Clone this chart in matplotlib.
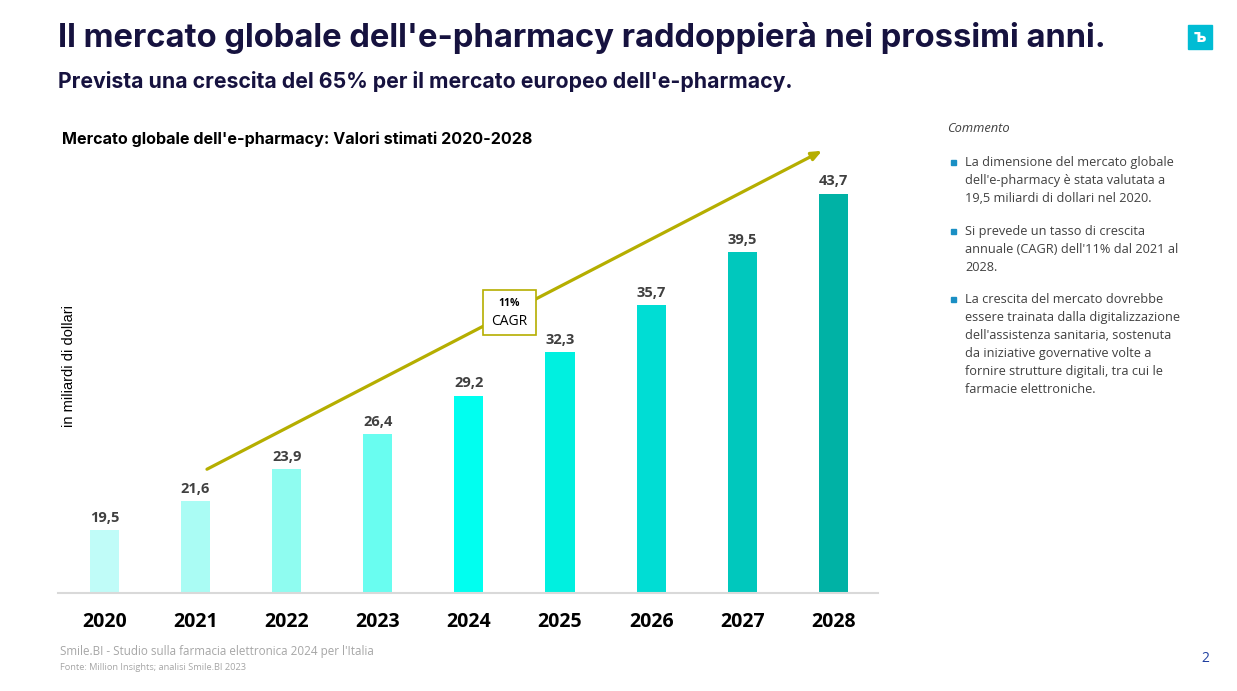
import numpy as np
import matplotlib.pyplot as plt
from matplotlib.patches import Rectangle

# data
anni = ['2020', '2021', '2022', '2023', '2024', '2025', '2026', '2027', '2028']
valori = [19.5, 21.6, 23.9, 26.4, 29.2, 32.3, 35.7, 39.5, 43.7]
colori = ['#c0fcf8', '#aafcf4', '#8ffcf0', '#69fdf0', '#00fff0',
          '#00f0e0', '#00ddd4', '#00c8bd', '#00b2a5']
etichette = [f'{v:.1f}'.replace('.', ',') for v in valori]

commento = [
    "La dimensione del mercato globale\ndell'e-pharmacy è stata valutata a\n19,5 miliardi di dollari nel 2020.",
    "Si prevede un tasso di crescita\nannuale (CAGR) dell'11% dal 2021 al\n2028.",
    "La crescita del mercato dovrebbe\nessere trainata dalla digitalizzazione\ndell'assistenza sanitaria, sostenuta\nda iniziative governative volte a\nfornire strutture digitali, tra cui le\nfarmacie elettroniche.",
]

navy = '#16123f'
oliva = '#b5ae00'

fig = plt.figure(figsize=(12.37, 6.91), dpi=100)
W, H = 1237, 691


def fx(px):
    return px / W


def fy(py):
    return 1 - py / H


# titles
fig.text(fx(58), fy(38), "Il mercato globale dell'e-pharmacy raddoppierà nei prossimi anni.",
         family='Inter', weight='bold', size=23.6, color=navy, va='center')
fig.text(fx(58), fy(81), "Prevista una crescita del 65% per il mercato europeo dell'e-pharmacy.",
         family='Inter', weight='bold', size=15.3, color=navy, va='center')
fig.text(fx(62), fy(139), "Mercato globale dell'e-pharmacy: Valori stimati 2020-2028",
         family='Inter', weight='bold', size=11.6, color='black', va='center')

# axes
ax = fig.add_axes([fx(58), fy(593), fx(878) - fx(58), fy(148) - fy(593)])
x = np.arange(len(anni))
bars = ax.bar(x, valori, width=0.32, color=colori, zorder=2)
ax.set_xlim(-0.51, 8.49)
ax.set_ylim(15, 47)
for s in ['top', 'right', 'left']:
    ax.spines[s].set_visible(False)
ax.spines['bottom'].set_color('#d9d9d9')
ax.spines['bottom'].set_linewidth(1.5)
ax.set_yticks([])
ax.set_xticks(x)
ax.set_xticklabels(anni, family='Open Sans', weight='bold', size=14, color='black')
ax.tick_params(axis='x', length=0, pad=14)
ax.set_ylabel('in miliardi di dollari', family='Liberation Sans', size=10.5,
              color='black', labelpad=2)
ax.yaxis.set_label_coords(0.022, 0.51)

for b, lab in zip(bars, etichette):
    ax.annotate(lab, (b.get_x() + b.get_width() / 2, b.get_height()),
                xytext=(0, 4), textcoords='offset points', ha='center', va='bottom',
                family='Open Sans', weight='bold', size=10.5, color='#404040')

# CAGR arrow
ax.annotate('', xy=(7.876, 46.8), xytext=(1.125, 23.9),
            arrowprops=dict(arrowstyle='-|>,head_length=0.6,head_width=0.25',
                            color=oliva, lw=2.3, shrinkA=0, shrinkB=0),
            annotation_clip=False, zorder=3)
ax.add_patch(Rectangle((4.446 - 0.29, 35.18 - 1.62), 0.58, 3.24, facecolor='white',
                       edgecolor=oliva, lw=1.2, zorder=4, clip_on=False))
ax.text(4.446, 35.85, '11%', ha='center', va='center', family='Open Sans',
        weight='bold', size=7.5, color='black', zorder=5)
ax.text(4.446, 34.55, 'CAGR', ha='center', va='center', family='Open Sans',
        size=10, color='black', zorder=5)

# commento
fig.text(fx(947), fy(128), 'Commento', family='Open Sans', style='italic', size=9.3,
         color='#404040', va='center')
y0 = [162, 231, 299]
for yy, t in zip(y0, commento):
    fig.patches.append(Rectangle((fx(951), fy(yy + 3)), fx(5), 5 / H, color='#1a8fc4',
                                 transform=fig.transFigure, figure=fig))
    fig.text(fx(965), fy(yy - 6), t, family='Open Sans', size=9.2, color='#404040',
             va='top', linespacing=1.5)

# logo
fig.patches.append(Rectangle((fx(1188), fy(49)), fx(24), 24 / H, color='#00bcd4',
                             transform=fig.transFigure, figure=fig))
fig.text(fx(1200), fy(37), 'ъ', ha='center', va='center', color='white',
         weight='bold', size=12)

# footer
fig.text(fx(60), fy(652), "Smile.BI - Studio sulla farmacia elettronica 2024 per l'Italia",
         family='Open Sans', size=8.4, color='#a6a6a6', va='center')
fig.text(fx(60), fy(667), "Fonte: Million Insights; analisi Smile.BI 2023",
         family='Open Sans', size=6.7, color='#a6a6a6', va='center')
fig.text(fx(1205), fy(658), '2', family='Open Sans', size=10, color='#2040a0',
         ha='center', va='center')

fig.savefig('out.png', dpi=100)
